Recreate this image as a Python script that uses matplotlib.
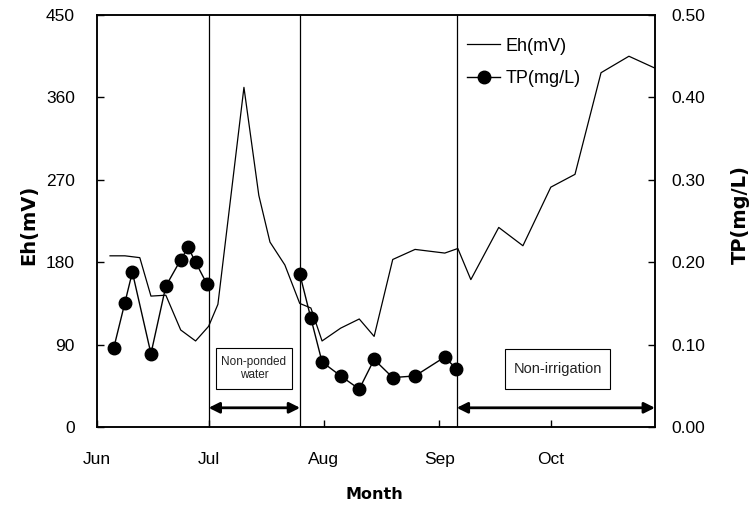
import numpy as np
import matplotlib
matplotlib.use('Agg')
import matplotlib.pyplot as plt
from matplotlib.patches import Rectangle
from matplotlib.lines import Line2D

plt.rcParams['font.family'] = ['Liberation Sans', 'DejaVu Sans']

# days counted from 1 June
eh_day = [3.5, 7.5, 11.5, 14.5, 18.5, 22.5, 26.5, 30, 32.5, 39.5, 43.5, 46.5, 50.5,
          54.5, 57.5, 60.5, 65.5, 70.5, 74.5, 79.5, 85.5, 93.5, 97, 100.5, 108,
          114.5, 122, 128.5, 135.5, 143, 150]
eh = [187, 187, 185, 143, 144, 106, 94, 110, 134, 371, 253, 202, 177,
      135, 130, 94, 108, 118, 99, 183, 194, 190, 195, 161, 218,
      198, 262, 276, 387, 405, 392]

# TP was not measured during the non-ponded period (gap)
tp_day = [4.5, 7.5, 9.5, 14.5, 18.5, 22.5, 24.5, 26.5, 29.5, np.nan,
          54.5, 57.5, 60.5, 65.5, 70.5, 74.5, 79.5, 85.5, 93.5, 96.5]
tp = [0.096, 0.151, 0.188, 0.089, 0.171, 0.203, 0.218, 0.200, 0.174, np.nan,
      0.186, 0.132, 0.079, 0.062, 0.046, 0.082, 0.060, 0.062, 0.085, 0.071]

month_pos = [0, 30, 61, 92, 122]
month_lab = ['Jun', 'Jul', 'Aug', 'Sep', 'Oct']
period_lines = [30, 54.6, 96.7]

fig = plt.figure(figsize=(7.55, 5.08), dpi=100)
ax = fig.add_axes([0.1285, 0.1594, 0.739, 0.811])
ax2 = ax.twinx()

ax.plot(eh_day, eh, color='black', lw=0.9)
ax2.plot(tp_day, tp, color='black', lw=1.0, marker='o', markersize=9)

for d in period_lines:
    ax.axvline(d, color='black', lw=0.9)

# period arrows
arrow = dict(arrowstyle='<|-|>', color='black', lw=2, mutation_scale=16,
             shrinkA=0, shrinkB=0)
ax.annotate('', xy=(54.6, 21), xytext=(30, 21), arrowprops=arrow)
ax.annotate('', xy=(150, 21), xytext=(96.7, 21), arrowprops=arrow)

# boxes
ax.add_patch(Rectangle((32.0, 41.5), 20.4, 44.8, fill=True, facecolor='white',
                       edgecolor='black', lw=0.8, zorder=3))
ax.text(42.2, 64, 'Non-ponded\nwater', ha='center', va='center', fontsize=8.5,
        linespacing=1.1, zorder=4, color='#222222')
ax.add_patch(Rectangle((109.7, 41.5), 28.2, 43.7, fill=True, facecolor='white',
                       edgecolor='black', lw=0.8, zorder=3))
ax.text(123.8, 63, 'Non-irrigation', ha='center', va='center', fontsize=10.5,
        zorder=4, color='#222222')

ax.set_xlim(0, 150)
ax.set_ylim(0, 450)
ax2.set_ylim(0, 0.5)
ax.set_yticks(np.arange(0, 451, 90))
ax2.set_yticks(np.arange(0, 0.51, 0.1))
ax2.set_yticklabels(['%.2f' % v for v in np.arange(0, 0.51, 0.1)])
ax.set_xticks(month_pos)
ax.set_xticklabels(month_lab)

ax.tick_params(axis='y', direction='in', length=5, width=1, labelsize=12.5, pad=16)
ax.tick_params(axis='x', direction='in', length=5, width=1, labelsize=12.5, pad=18)
ax2.tick_params(axis='y', direction='in', length=5, width=1, labelsize=12.5, pad=12)
for a in (ax, ax2):
    for s in a.spines.values():
        s.set_linewidth(1.1)

ax.set_ylabel('Eh(mV)', fontsize=14, fontweight='bold', family='DejaVu Sans')
ax.yaxis.set_label_coords(-0.106, 0.49)
ax2.set_ylabel('TP(mg/L)', fontsize=14, fontweight='bold', family='DejaVu Sans')
ax2.yaxis.set_label_coords(1.136, 0.515)
ax.set_xlabel('Month', fontsize=11.5, fontweight='bold', family='DejaVu Sans')
ax.xaxis.set_label_coords(0.498, -0.146)

handles = [Line2D([], [], color='black', lw=0.9),
           Line2D([], [], color='black', lw=1.0, marker='o', markersize=9)]
ax2.legend(handles, ['Eh(mV)', 'TP(mg/L)'], loc='upper left',
           bbox_to_anchor=(0.663, 0.945), frameon=False, fontsize=13,
           handlelength=1.85, handletextpad=0.3, labelspacing=0.85,
           borderpad=0, borderaxespad=0)

fig.savefig('out.png', dpi=100)
